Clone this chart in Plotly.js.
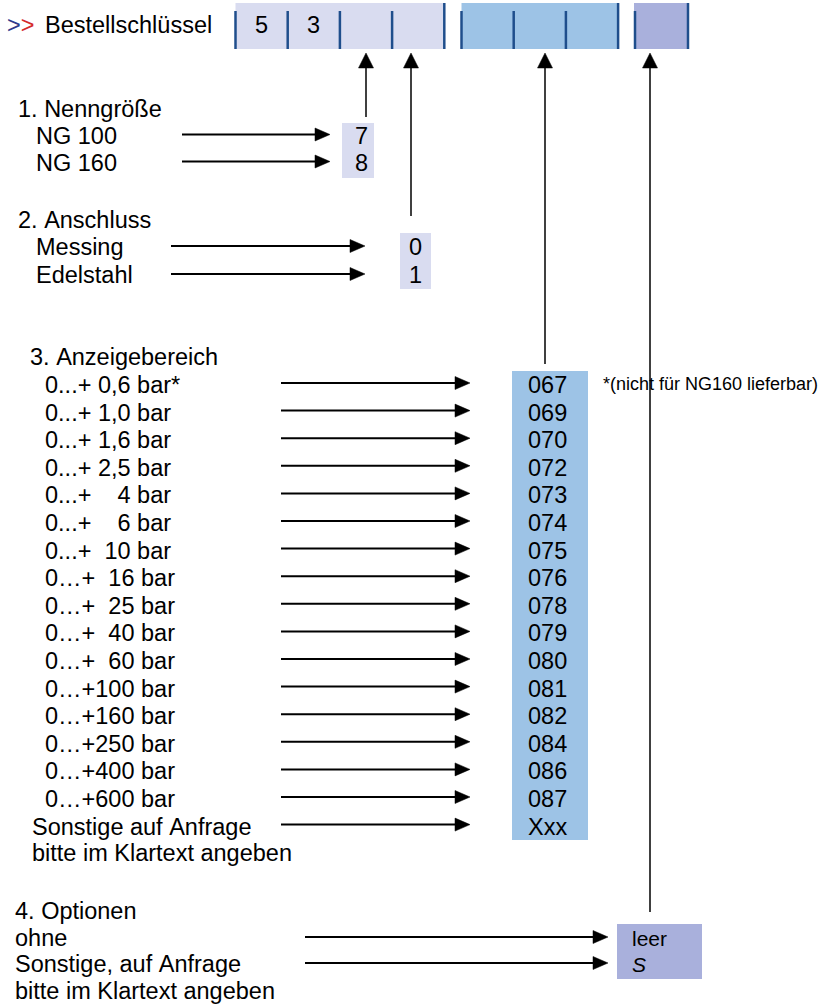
<!DOCTYPE html>
<html>
<head>
<meta charset="utf-8">
<script src="https://cdn.plot.ly/plotly-3.0.1.min.js"></script>
<style>html,body{margin:0;padding:0;background:#fff;}#chart{width:824px;height:1008px;}</style>
</head>
<body>
<div id="chart"></div>
<script>
// ---------- data ----------
const headerTitle = 'Bestellschlüssel';
const headerGroup1 = ['5', '3', '', ''];
const headerGroup2 = ['', '', ''];
const headerGroup3 = [''];

const sec1Title = '1. Nenngröße';
const sec1Labels = ['NG 100', 'NG 160'];
const sec1Codes = ['7', '8'];

const sec2Title = '2. Anschluss';
const sec2Labels = ['Messing', 'Edelstahl'];
const sec2Codes = ['0', '1'];

const sec3Title = '3. Anzeigebereich';
const sec3Labels = [
  '0...+ 0,6 bar*', '0...+ 1,0 bar', '0...+ 1,6 bar', '0...+ 2,5 bar',
  '0...+    4 bar', '0...+    6 bar', '0...+  10 bar', '0…+  16 bar',
  '0…+  25 bar', '0…+  40 bar', '0…+  60 bar', '0…+100 bar',
  '0…+160 bar', '0…+250 bar', '0…+400 bar', '0…+600 bar',
  'Sonstige auf Anfrage'
];
const sec3Codes = ['067','069','070','072','073','074','075','076','078','079','080','081','082','084','086','087','Xxx'];
const sec3Note = 'bitte im Klartext angeben';
const footnote = '*(nicht für NG160 lieferbar)';

const sec4Title = '4. Optionen';
const sec4Labels = ['ohne', 'Sonstige, auf Anfrage'];
const sec4Codes = ['leer', 'S'];
const sec4Note = 'bitte im Klartext angeben';

// ---------- styles ----------
const FONT = 'Liberation Sans, Arial, sans-serif';
const NARROW = 'Liberation Sans Narrow, Arial Narrow, Liberation Sans, sans-serif';
const FS = 23.5;
const C_LAV = '#D9DCF0';
const C_BLUE = '#9DC3E6';
const C_PURP = '#A9B0DC';
const C_DIV = '#1F4E8C';

const shapes = [];
const annotations = [];

function txt(x, y, text, opts) {
  opts = opts || {};
  const t = opts.raw ? text : text.replace(/ /g, '\u00A0');
  const font = {family: opts.family || FONT, size: opts.size || FS, color: opts.color || '#000'};
  annotations.push({
    x: x, y: y, xref: 'x', yref: 'y', text: t,
    showarrow: false, xanchor: opts.xanchor || 'left', yanchor: 'middle',
    font: font, borderpad: 0
  });
}
function rect(x0, x1, y0, y1, fill) {
  shapes.push({type: 'rect', xref: 'x', yref: 'y', x0: x0, x1: x1, y0: y0, y1: y1,
    fillcolor: fill, line: {width: 0}, layer: 'below'});
}
function line(x0, y0, x1, y1, w, col) {
  shapes.push({type: 'line', xref: 'x', yref: 'y', x0: x0, y0: y0, x1: x1, y1: y1,
    line: {color: col || '#000', width: w}});
}
function tri(path) {
  shapes.push({type: 'path', xref: 'x', yref: 'y', path: path, fillcolor: '#000', line: {color: '#000', width: 0.5}});
}
function hArrow(x0, x1, y) {
  const L = 15, H = 6.5;
  line(x0, y, x1 - L + 1, y, 2);
  tri(`M ${x1 - L},${y - H} L ${x1},${y} L ${x1 - L},${y + H} Z`);
}
function vArrowUp(x, yTip, yBottom) {
  const L = 15, W = 7.5;
  tri(`M ${x - W},${yTip + L} L ${x},${yTip} L ${x + W},${yTip + L} Z`);
  line(x, yTip + L - 1, x, yBottom, 1.5);
}

// ---------- header ----------
const HY0 = 3, HY1 = 49, HDIV0 = 11, CELL = 52.2;
txt(6, 25, '<span style="color:#2E3A8C">&gt;</span><span style="color:#D42A2A">&gt;</span>', {raw: true});
txt(44, 25, headerTitle);

function headerGroup(xStart, cells, fill) {
  const xEnd = xStart + cells.length * CELL;
  rect(xStart, xEnd, HY0, HY1, fill);
  cells.forEach((c, i) => {
    const xl = xStart + i * CELL;
    line(xl, HDIV0, xl, HY1, 2.5, C_DIV);
    if (c) txt(xl + CELL / 2, 25, c, {xanchor: 'center'});
  });
  line(xEnd, HY0, xEnd, HY1, 2.5, C_DIV);
  return xEnd;
}
headerGroup(235.5, headerGroup1, C_LAV);
headerGroup(461.5, headerGroup2, C_BLUE);
rect(634, 688, HY0, HY1, C_PURP);
line(635, HDIV0, 635, HY1, 2.5, C_DIV);
line(688, HY0, 688, HY1, 2.5, C_DIV);

// vertical connectors (pointing up to header)
const tipY = 53;
vArrowUp(366, tipY, 117);
vArrowUp(411, tipY, 216);
vArrowUp(545, tipY, 364);
vArrowUp(650, tipY, 912);

// ---------- section 1 ----------
txt(17, 109, sec1Title);
const s1Y = [136, 163];
rect(342, 374, 123, 178, C_LAV);
sec1Labels.forEach((l, i) => {
  txt(35, s1Y[i], l);
  hArrow(182, 330, s1Y[i] - 1.5);
  txt(369, s1Y[i], sec1Codes[i], {xanchor: 'right'});
});

// ---------- section 2 ----------
txt(17, 220, sec2Title);
const s2Y = [247, 275];
rect(400, 431, 233, 289, C_LAV);
sec2Labels.forEach((l, i) => {
  txt(35, s2Y[i], l);
  hArrow(171, 365, s2Y[i] - 1);
  txt(423, s2Y[i], sec2Codes[i], {xanchor: 'right'});
});

// ---------- section 3 ----------
txt(29, 357, sec3Title);
const s3Y0 = 385, s3Step = 27.6;
rect(512, 588, 371, 840, C_BLUE);
sec3Labels.forEach((l, i) => {
  const y = s3Y0 + i * s3Step;
  const isLast = i === sec3Labels.length - 1;
  txt(isLast ? 31 : 44, y, l);
  hArrow(281, 470, y - 2);
  txt(547, y, sec3Codes[i], {xanchor: 'center'});
});
txt(31, s3Y0 + sec3Labels.length * s3Step - 1, sec3Note);
txt(602, 384, footnote, {size: 18});

// ---------- section 4 ----------
txt(14, 911, sec4Title);
const s4Y = [938, 964];
rect(617, 702, 924, 979, C_PURP);
sec4Labels.forEach((l, i) => {
  txt(14, s4Y[i], l);
  hArrow(305, 608, s4Y[i] - 1);
});
txt(631, s4Y[0], sec4Codes[0], {family: NARROW, size: 21});
txt(631, s4Y[1], '<i>' + sec4Codes[1] + '</i>', {family: NARROW, size: 21, raw: true});
txt(14, 991, sec4Note);

const layout = {
  width: 824, height: 1008,
  margin: {l: 0, r: 0, t: 0, b: 0, pad: 0},
  paper_bgcolor: '#fff', plot_bgcolor: '#fff',
  xaxis: {range: [0, 824], visible: false, fixedrange: true},
  yaxis: {range: [1008, 0], visible: false, fixedrange: true},
  showlegend: false,
  shapes: shapes,
  annotations: annotations
};
Plotly.newPlot('chart', [{x: [], y: [], type: 'scatter', mode: 'markers', hoverinfo: 'skip'}], layout,
  {staticPlot: true, displayModeBar: false});
</script>
</body>
</html>
